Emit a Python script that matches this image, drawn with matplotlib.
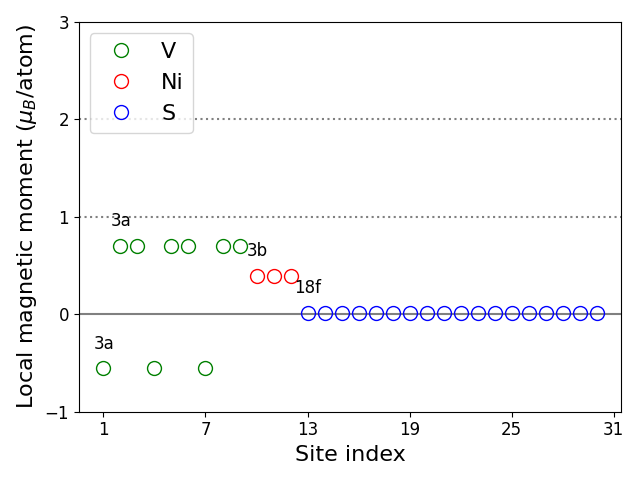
import matplotlib
matplotlib.use("Agg")
import matplotlib.pyplot as plt

v_sites = [1, 2, 3, 4, 5, 6, 7, 8, 9]
v_moments = [-0.55, 0.70, 0.70, -0.55, 0.70, 0.70, -0.55, 0.70, 0.70]
ni_sites = [10, 11, 12]
ni_moments = [0.39, 0.39, 0.39]
s_sites = list(range(13, 31))
s_moments = [0.01] * 18

labels = ["3a", "3b", "18f", "3a"]
label_x = [1.4, 9.4, 12.2, 0.4]
label_y = [0.96, 0.65, 0.27, -0.30]

fig, ax = plt.subplots(figsize=(6.4, 4.8), dpi=100)
ax.plot(v_sites, v_moments, 'o', mfc='none', mec='green', ms=10, label='V')
ax.plot(ni_sites, ni_moments, 'o', mfc='none', mec='red', ms=10, label='Ni')
ax.plot(s_sites, s_moments, 'o', mfc='none', mec='blue', ms=10, label='S')
ax.axhline(0, color='gray', lw=1.5, zorder=0)
ax.axhline(1, color='gray', ls=':', lw=1.5, zorder=0)
ax.axhline(2, color='gray', ls=':', lw=1.5, zorder=0)
for t, x, y in zip(labels, label_x, label_y):
    ax.text(x, y, t, fontsize=12, ha='left', va='center')
ax.set_ylim(-1, 3)
ax.set_xticks([1, 7, 13, 19, 25, 31])
ax.set_yticks([-1, 0, 1, 2, 3])
ax.tick_params(labelsize=12)
ax.set_xlabel('Site index', fontsize=16)
ax.set_ylabel(r'Local magnetic moment ($\mu_B$/atom)', fontsize=16)
ax.legend(loc='upper left', fontsize=16)
fig.tight_layout()
fig.savefig('out.png')
